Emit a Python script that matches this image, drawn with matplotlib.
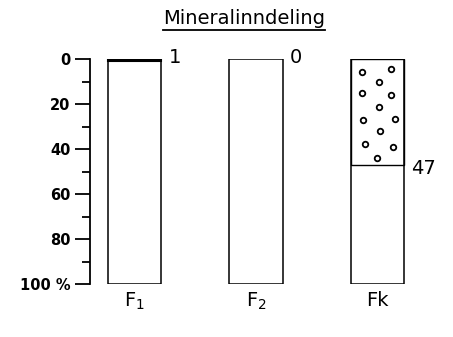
import matplotlib.pyplot as plt
from matplotlib.lines import Line2D

# Mineralinndeling: andel (%) per prøve, regnet fra toppen av søylen
categories = ['F$_1$', 'F$_2$', 'Fk']
values = [1, 0, 47]
labels = ['1', '0', '47']
fills = ['////', None, 'o']

# sirkelmønster i Fk-feltet (x-forskyvning fra søylemidten, dybde i %)
dot_dx = [-0.125, 0.108, 0.012, -0.125, 0.114, 0.015, -0.117, 0.144, 0.021, -0.10, 0.13, -0.007]
dot_y = [5.9, 4.6, 10.1, 15.0, 16.0, 21.2, 27.1, 26.7, 31.9, 37.9, 39.0, 44.1]

yticks = [0, 20, 40, 60, 80, 100]
ytick_labels = ['0', '20', '40', '60', '80', '100 %']

fig = plt.figure(figsize=(4.53, 3.37), dpi=100)
ax = fig.add_axes([90/453, 1 - 284/337, 350/453, 225/337])

xs = [1, 2, 3]
w = 0.44
for x, v, lab, f in zip(xs, values, labels, fills):
    # hele søylen
    ax.bar(x, 100, width=w, bottom=0, facecolor='white', edgecolor='black', linewidth=1.1)
    if v > 0:
        if f == 'o':
            ax.bar(x, v, width=w, bottom=0, facecolor='none', edgecolor='black', linewidth=1.0)
            ax.scatter([x + d for d in dot_dx], dot_y, s=16, facecolors='white',
                       edgecolors='black', linewidths=1.3, zorder=3)
        else:
            ax.bar(x, v, width=w, bottom=0, facecolor='white', edgecolor='black',
                   hatch=f, linewidth=1.5)
    ty = v + 1.5 if v > 3 else -0.5
    ax.text(x + w/2 + 0.06, ty, lab, fontsize=14, va='center', ha='left')

ax.set_xlim(0.634, 3.514)
ax.set_ylim(100, 0)
ax.set_yticks(yticks)
ax.set_yticklabels(ytick_labels, fontsize=10.5, fontweight='bold')
ax.set_yticks(range(10, 100, 20), minor=True)
ax.tick_params(axis='y', which='major', length=11, width=1.3, pad=3)
ax.tick_params(axis='y', which='minor', length=6, width=1.3)
ax.set_xticks(xs)
ax.set_xticklabels(categories, fontsize=14)
ax.tick_params(axis='x', length=0, pad=5)
for s in ['top', 'right', 'bottom']:
    ax.spines[s].set_visible(False)
ax.spines['left'].set_linewidth(1.3)

t = fig.text(244/453, 1 - 18/337, 'Mineralinndeling', fontsize=14, ha='center', va='center')
fig.canvas.draw()
bb = t.get_window_extent().transformed(fig.transFigure.inverted())
fig.add_artist(Line2D([bb.x0, bb.x1], [bb.y0 - 0.006, bb.y0 - 0.006],
                      transform=fig.transFigure, color='black', linewidth=1.3))

fig.savefig('out.png', dpi=100)
